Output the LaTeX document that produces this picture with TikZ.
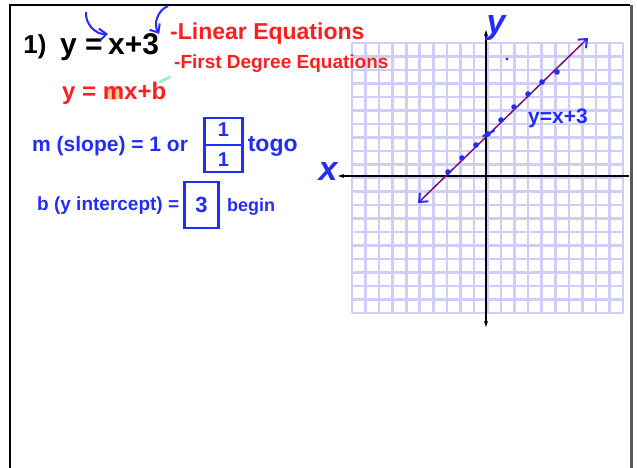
\documentclass[tikz,border=0pt]{standalone}
\usepackage{fontspec}
\setmainfont{Liberation Sans}
\usepackage{tikz}
\usetikzlibrary{arrows.meta,positioning}
\definecolor{penred}{RGB}{255,30,30}
\definecolor{penblue}{RGB}{35,45,250}
\definecolor{gridblue}{RGB}{206,206,248}
\definecolor{lineviolet}{RGB}{125,10,125}
\definecolor{hlorange}{RGB}{255,175,110}
\definecolor{hlgreen}{RGB}{165,235,205}
\newcommand{\pen}[1]{\fontsize{#1}{#1}\selectfont\bfseries}

\begin{document}
\begin{tikzpicture}[x=1pt, y=-1pt,
		red ink/.style={text=penred, inner sep=0pt},
		blue ink/.style={text=penblue, inner sep=0pt},
		box/.style={draw=penblue, line width=2.4pt, inner sep=0pt},
		barb/.tip={Straight Barb[color=penblue, length=7pt, width=12pt, line width=2pt]}]
			\useasboundingbox (0,0) rectangle (637,468);
			% board
			\draw[line width=2pt] (10,468) -- (10,5) -- (630,5);
			\draw[line width=3pt, black!65] (631,5) -- (631,468);
			% graph paper
			\foreach \k in {0,...,20}{
				\draw[gridblue, line width=2.6pt] (352+13.55*\k,43) -- (352+13.55*\k,313);
				\draw[gridblue, line width=2.6pt] (352,43+13.5*\k) -- (623,43+13.5*\k);
			}
			\coordinate (yt) at (486,30);
			\coordinate (yb) at (486,327);
			\coordinate (xl) at (338,176);
			\coordinate (xr) at (629,176);
			\draw[line width=1.3pt, {Stealth[length=6pt,width=4pt]}-{Stealth[length=6pt,width=4pt]}] (yt) -- (yb);
			\draw[line width=1.3pt, {Stealth[length=6pt,width=4pt]}-] (xl) -- (xr);
			\node (xlab) [blue ink, font=\pen{34}\itshape] at (328,172) {x};
			\node (ylab) [blue ink, font=\pen{34}\itshape] at (496,28) {y};
			
			\coordinate (lo) at (418,203);
			\coordinate (hi) at (588,38);
			\draw[lineviolet, line width=1.5pt, barb-barb] (lo) -- (hi);
			\foreach \px/\py in {448/172, 462/158, 476/145, 488/134, 501/120, 514/107, 528/94, 542/82, 557/72}
				\fill[penblue] (\px,\py) circle (2.8);
			\fill[penblue] (507,59) circle (1.6);
			\draw[penblue, line width=2pt, line cap=round] (483,136) -- (494,131);
			\node (lab) [blue ink, font=\pen{21}] at (558,118) {y=x+3};
			
			% the equation
			\node (num) [inner sep=0pt, font=\pen{26}] at (35,47) {1)};
			\node (lhs) [inner sep=0pt, font=\pen{30}, anchor=base west] at (60,55) {y =};
			\node (rhs) [inner sep=0pt, font=\pen{30}, base right=5pt of lhs] {x+3};
			\coordinate (c1) at (86,12);
			\coordinate (c2) at (168,6);
			\draw[penblue, line width=2pt, -barb] (c1) to[bend right=50] (rhs.north west);
			\draw[penblue, line width=2pt, -barb] (c2) to[bend right=50] (rhs.north east);
			
			\node (lin) [red ink, font=\pen{23}, anchor=west] at (170,34) {-Linear Equations};
			\node (deg) [red ink, font=\pen{19}, below right=10pt and 4pt of lin.south west] {-First Degree Equations};
			
			\fill[hlorange, opacity=.7] (113,93) circle (7.5);
			\node (gen) [red ink, font=\pen{24}, anchor=west] at (62,93) {y = mx+b};
			\draw[hlgreen, line width=3pt, line cap=round] (160,82) -- (170,77);
			
			\node (slope) [blue ink, font=\pen{21}, anchor=west] at (32,146) {m (slope) = 1 or};
			\node (frac) [box, blue ink, font=\pen{20}, align=center, minimum width=38pt, minimum height=54pt, right=15pt of slope, yshift=1pt] {1\\[10pt]1};
			\draw[penblue, line width=2pt] (frac.west) -- (frac.east);
			\node (togo) [blue ink, font=\pen{23}, right=4pt of frac, yshift=-1pt] {togo};
			
			\node (icpt) [blue ink, font=\pen{19}, anchor=west] at (37,206) {b (y intercept) =};
			\node (three) [box, blue ink, font=\pen{22}, minimum width=34pt, minimum height=46pt, right=4pt of icpt, yshift=1pt] {3};
			\node (begin) [blue ink, font=\pen{18}, right=7pt of three, yshift=-2pt] {begin};
		\end{tikzpicture}
\end{document}
